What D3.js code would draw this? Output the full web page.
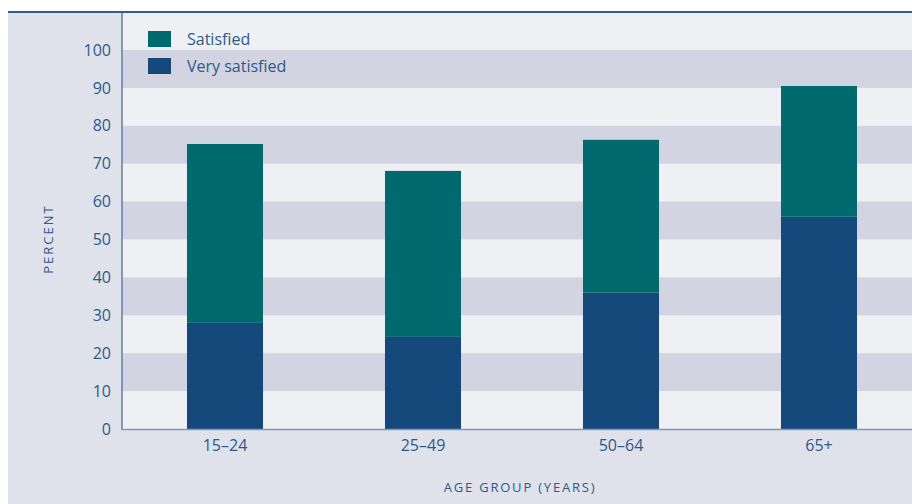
<!DOCTYPE html>
<html><head><meta charset="utf-8">
<script src="https://cdn.jsdelivr.net/npm/d3@7/dist/d3.min.js"></script>
<style>body{margin:0;background:#fff}svg{display:block}text{font-family:"Open Sans",sans-serif}</style>
</head><body><svg id="c" width="912" height="504"></svg>
<script>
const categories = ["15–24","25–49","50–64","65+"];
const verySatisfied = [28, 24.3, 36, 56];
const satisfied = [47.2, 43.8, 40.3, 34.5];
const yTicks = [0,10,20,30,40,50,60,70,80,90,100];
const seriesNames = ["Satisfied","Very satisfied"];

const svg = d3.select("#c");
const txt = "#2d5a8a";
const L = 122, R = 912, T = 13, B = 429;
svg.append("rect").attr("x",8).attr("y",12).attr("width",904).attr("height",492).attr("fill","#dfe1eb");
svg.append("rect").attr("x",L).attr("y",T).attr("width",R-L).attr("height",B-T).attr("fill","#eff0f4");

const y = d3.scaleLinear().domain([0,100]).range([B,50]);
const x = d3.scaleBand().domain(categories).range([126,918]).paddingInner(0.616).paddingOuter(0.308);

// stripes
const bands = d3.range(0,100,10).filter(v => (v/10)%2===1);
svg.selectAll(".band").data(bands).enter().append("rect")
  .attr("x",L).attr("width",R-L).attr("y",d=>y(d+10)).attr("height",d=>y(d)-y(d+10)).attr("fill","#d3d4e1");

const rows = categories.map((c,i)=>({cat:c, vs:verySatisfied[i], s:satisfied[i]}));
const stack = d3.stack().keys(["vs","s"])(rows);
const colors = {vs:"#15497b", s:"#006a6e"};
stack.forEach(layer=>{
  svg.selectAll(null).data(layer).enter().append("rect")
    .attr("x",d=>x(d.data.cat)).attr("width",x.bandwidth())
    .attr("y",d=>y(d[1])).attr("height",d=>y(d[0])-y(d[1]))
    .attr("fill",colors[layer.key]);
});

// axes lines
svg.append("line").attr("x1",8).attr("x2",912).attr("y1",12).attr("y2",12).attr("stroke","#2e5f8f").attr("stroke-width",2);
svg.append("line").attr("x1",L).attr("x2",L).attr("y1",T).attr("y2",B+1).attr("stroke","#5b7fa6").attr("stroke-width",1.5);
svg.append("line").attr("x1",L).attr("x2",R).attr("y1",B+0.5).attr("y2",B+0.5).attr("stroke","#7f99b8").attr("stroke-width",1.5);

// y ticks
const yAxis = svg.append("g").attr("transform",`translate(${L},0)`)
  .call(d3.axisLeft(y).tickValues(yTicks).tickSize(0).tickPadding(11));
yAxis.select(".domain").remove();
yAxis.selectAll("text").attr("fill",txt).style("font-size","16px").style("font-family","Open Sans");

const xAxis = svg.append("g").attr("transform",`translate(0,${B})`)
  .call(d3.axisBottom(x).tickSize(0).tickPadding(11));
xAxis.select(".domain").remove();
xAxis.selectAll("text").attr("fill",txt).style("font-size","16px").style("font-family","Open Sans");

svg.append("text").attr("transform","translate(53,239) rotate(-90)").attr("text-anchor","middle")
  .attr("fill",txt).style("font-size","13px").style("letter-spacing","2px").text("PERCENT");
svg.append("text").attr("x",520).attr("y",492).attr("text-anchor","middle")
  .attr("fill",txt).style("font-size","13px").style("letter-spacing","1.8px").text("AGE GROUP (YEARS)");

// legend
const lg = svg.append("g");
seriesNames.forEach((n,i)=>{
  lg.append("rect").attr("x",148).attr("y",31+i*27).attr("width",23).attr("height",16).attr("fill",i===0?colors.s:colors.vs);
  lg.append("text").attr("x",187).attr("y",45+i*27).attr("fill",txt).style("font-size","16px").text(n);
});
</script></body></html>
